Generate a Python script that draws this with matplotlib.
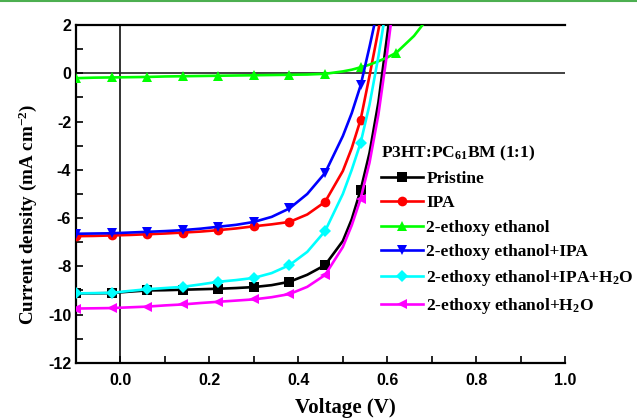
# -*- coding:utf-8 -*-
import numpy as np
import matplotlib
matplotlib.use('Agg')
import matplotlib.pyplot as plt
from matplotlib.lines import Line2D

nan = np.nan
# voltage points (V)
voltage = [-0.1, -0.06, -0.02, 0.02, 0.06, 0.10, 0.14, 0.18, 0.22, 0.26, 0.30, 0.34,
           0.38, 0.42, 0.46, 0.50, 0.52, 0.54, 0.56, 0.58, 0.60, 0.62, 0.66, 0.70]
# voltages where the symbols sit
marker_v = [-0.1, -0.02, 0.06, 0.14, 0.22, 0.30, 0.38, 0.46, 0.54, 0.62]

# current density (mA cm^-2)
pristine = [-9.12, -9.12, -9.11, -9.05, -9.00, -8.99, -8.97, -8.95, -8.93, -8.90, -8.86, -8.78,
            -8.64, -8.35, -7.95, -6.95, -6.05, -4.84, -3.30, -1.20, 1.60, 4.50, nan, nan]
ipa = [-6.75, -6.74, -6.72, -6.70, -6.67, -6.64, -6.60, -6.56, -6.50, -6.43, -6.34, -6.26,
       -6.16, -5.85, -5.33, -4.05, -3.10, -1.92, -0.10, 1.80, 3.80, 6.00, nan, nan]
ethoxy = [-0.20, -0.18, -0.17, -0.16, -0.15, -0.13, -0.12, -0.11, -0.10, -0.09, -0.08, -0.07,
          -0.06, -0.05, -0.02, 0.08, 0.15, 0.25, 0.36, 0.50, 0.66, 0.85, 1.55, 2.50]
ethoxy_ipa = [-6.65, -6.64, -6.63, -6.60, -6.57, -6.54, -6.50, -6.44, -6.36, -6.28, -6.16, -5.95,
              -5.60, -5.00, -4.13, -2.60, -1.65, -0.50, 1.10, 2.80, 4.50, 6.50, nan, nan]
ethoxy_ipa_h2o = [-9.12, -9.11, -9.10, -9.02, -8.95, -8.90, -8.85, -8.75, -8.64, -8.57, -8.48, -8.28,
                  -7.95, -7.40, -6.54, -5.00, -4.00, -2.88, -1.30, 0.70, 3.00, 5.50, nan, nan]
ethoxy_h2o = [-9.75, -9.74, -9.73, -9.70, -9.67, -9.62, -9.58, -9.52, -9.47, -9.42, -9.37, -9.28,
              -9.15, -8.85, -8.36, -7.20, -6.30, -5.20, -3.70, -1.70, 0.90, 3.80, nan, nan]

labels = ['Pristine', 'IPA', '2-ethoxy ethanol', '2-ethoxy ethanol+IPA',
          '2-ethoxy ethanol+IPA+H$_2$O', '2-ethoxy ethanol+H$_2$O']

plt.rcParams['axes.unicode_minus'] = False
plt.rcParams['font.family'] = ['Liberation Sans', 'DejaVu Sans']
plt.rcParams['mathtext.fontset'] = 'custom'
plt.rcParams['mathtext.rm'] = 'Liberation Serif:bold'
plt.rcParams['mathtext.it'] = 'Liberation Serif:bold'
plt.rcParams['mathtext.bf'] = 'Liberation Serif:bold'
plt.rcParams['mathtext.default'] = 'rm'

fig = plt.figure(figsize=(6.37, 4.18), dpi=100)
ax = fig.add_axes([0.1193, 0.132, 0.768, 0.808])

v = np.array(voltage)
marks = [i for i in range(len(v)) if np.any(np.isclose(v[i], marker_v))]

series = [pristine, ipa, ethoxy, ethoxy_ipa, ethoxy_ipa_h2o, ethoxy_h2o]
colors = ['#000000', '#ff0000', '#00ff00', '#0000ff', '#00ffff', '#ff00ff']
markers = ['s', 'o', '^', 'v', 'D', '<']
sizes = [6.5, 7, 7, 7, 6, 7]

ax.axhline(0, color='#333333', lw=1.3, zorder=1)
ax.axvline(0, color='#222222', lw=1.3, zorder=1)

for y, c, m, s, lab in zip(series, colors, markers, sizes, labels):
    ax.plot(v, y, color=c, lw=1.9, marker=m, markersize=s, markevery=marks,
            markeredgewidth=0, label=lab, zorder=3)

ax.set_xlim(-0.1, 1.0)
ax.set_ylim(-12, 2)
ax.set_xticks([0.0, 0.2, 0.4, 0.6, 0.8, 1.0])
ax.set_xticks(np.arange(-0.1, 1.0, 0.2), minor=True)
ax.set_yticks(np.arange(-12, 3, 2))
ax.set_yticks(np.arange(-11, 2, 2), minor=True)
ax.xaxis.set_major_formatter(matplotlib.ticker.FormatStrFormatter('%.1f'))
ax.tick_params(which='both', direction='in', length=5, width=1.2,
               top=False, right=False, labelsize=11.5)
for lab in ax.get_xticklabels() + ax.get_yticklabels():
    lab.set_fontweight('bold')
ax.tick_params(axis='x', pad=7)

ax.spines['right'].set_visible(False)
for sp in ['left', 'bottom', 'top']:
    ax.spines[sp].set_linewidth(1.6)

ax.set_xlabel('Voltage (V)', family='Liberation Serif', weight='bold', size=15)
ax.set_ylabel('Current density (mA cm$^{-2}$)', family='Liberation Serif', weight='bold', size=13.7)
ax.xaxis.set_label_coords(0.55, -0.104)
ax.yaxis.set_label_coords(-0.076, 0.439)

leg = ax.legend(loc='upper left', bbox_to_anchor=(0.624, 0.649), frameon=False,
                prop={'family': 'Liberation Serif', 'weight': 'bold', 'size': 12.5},
                title='P3HT:PC$_{61}$BM (1:1)',
                title_fontproperties={'family': 'Liberation Serif', 'weight': 'bold', 'size': 12.5},
                alignment='left', handlelength=2.4, handletextpad=0.2,
                labelspacing=0.47, borderpad=0, borderaxespad=0)

# thin green rule along the top edge of the page
fig.add_artist(Line2D([0, 1], [0.997, 0.997], color='#4caf50', lw=1.5, transform=fig.transFigure))

plt.savefig('out.png', dpi=100)
